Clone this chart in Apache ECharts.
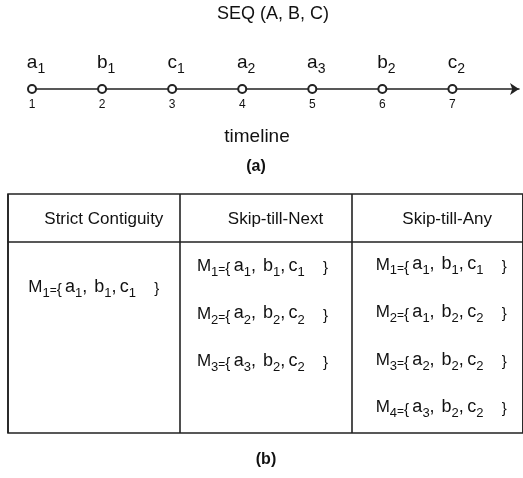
<!DOCTYPE html>
<html>
<head>
<meta charset="utf-8">
<script src="https://cdn.jsdelivr.net/npm/echarts@6/dist/echarts.min.js"></script>
<style>
html,body{margin:0;padding:0;background:#fff;}
#chart{width:523px;height:478px;}
</style>
</head>
<body>
<div id="chart"></div>
<script>
// ---- data ----
const patternTitle = 'SEQ (A, B, C)';
const timePoints = [1, 2, 3, 4, 5, 6, 7];
const eventTypes = ['a', 'b', 'c', 'a', 'a', 'b', 'c'];
const eventIndex = [1, 1, 1, 2, 3, 2, 2];
const tickLabels = ['1', '2', '3', '4', '5', '6', '7'];
const axisTitle = 'timeline';
const policies = ['Strict Contiguity', 'Skip-till-Next', 'Skip-till-Any'];
const strictMatches = [['a1', 'b1', 'c1']];
const nextMatches = [['a1', 'b1', 'c1'], ['a2', 'b2', 'c2'], ['a3', 'b2', 'c2']];
const anyMatches = [['a1', 'b1', 'c1'], ['a1', 'b2', 'c2'], ['a2', 'b2', 'c2'], ['a3', 'b2', 'c2']];
const captionA = '(a)';
const captionB = '(b)';

// ---- styling ----
const FONT = 'Liberation Sans';
const INK = '#111';

const evRich = {
  m: { fontFamily: FONT, fontSize: 19, color: INK, verticalAlign: 'top' },
  s: { fontFamily: FONT, fontSize: 14, color: INK, verticalAlign: 'top', padding: [8.5, 0, 0, 0] }
};
const mRich = {
  M: { fontFamily: FONT, fontSize: 17, color: INK, verticalAlign: 'top', padding: [1, 0, 0, 0] },
  s: { fontFamily: FONT, fontSize: 13, color: INK, verticalAlign: 'top', padding: [9, 0, 0, 0] },
  eq: { fontFamily: FONT, fontSize: 12, color: INK, verticalAlign: 'top', padding: [7, 0, 0, 0] },
  br: { fontFamily: FONT, fontSize: 15, color: INK, verticalAlign: 'top', padding: [4.5, 0, 0, 0] },
  g: { fontFamily: FONT, fontSize: 25, lineHeight: 10, color: INK, verticalAlign: 'top' },
  m: { fontFamily: FONT, fontSize: 18, color: INK, verticalAlign: 'top' }
};

function evTimeline(id) {
  return '{m|' + id.charAt(0) + '}{s|' + id.slice(1) + '}';
}
function evCell(id) {
  return '{m|' + id.charAt(0) + '}{s|' + id.slice(1) + '}';
}
function matchText(k, items) {
  return '{M|M}{s|' + k + '}{eq|=}{br|{}{eq| }' +
    evCell(items[0]) + '{m|,}{g| }' +
    evCell(items[1]) + '{m|,}{eq| }' +
    evCell(items[2]) + '{m|   }{eq| }}';
}

function matchSeries(col, matches, dx, dy) {
  return {
    type: 'scatter', xAxisIndex: 1, yAxisIndex: 1,
    symbolSize: 0, clip: false, silent: true,
    itemStyle: { opacity: 1 },
    data: matches.map(function (m, i) { return [col, i]; }),
    label: {
      show: true, position: 'inside', offset: [dx, dy], opacity: 1,
      fontFamily: FONT, fontSize: 15, color: INK,
      formatter: function (p) { return matchText(p.dataIndex + 1, matches[p.dataIndex]); },
      rich: mRich
    }
  };
}

const chart = echarts.init(document.getElementById('chart'), null, { renderer: 'canvas' });
chart.setOption({
  animation: false,
  backgroundColor: '#fff',
  title: [
    { text: patternTitle, left: 273, top: 5, textAlign: 'center', padding: 0,
      textStyle: { fontFamily: FONT, fontSize: 18, fontWeight: 'normal', color: INK } },
    { text: captionA, left: 256, top: 159, textAlign: 'center', padding: 0,
      textStyle: { fontFamily: FONT, fontSize: 16, fontWeight: 'bold', color: INK } },
    { text: captionB, left: 266, top: 452, textAlign: 'center', padding: 0,
      textStyle: { fontFamily: FONT, fontSize: 16, fontWeight: 'bold', color: INK } }
  ],
  grid: [
    { left: 32, right: 4, top: 60, height: 29 },
    { left: 8, top: 194, width: 516, height: 239, show: true, borderColor: '#222', borderWidth: 1.6, backgroundColor: 'transparent' }
  ],
  xAxis: [
    {
      gridIndex: 0, type: 'value', min: 1, max: 7.95, interval: 1,
      name: axisTitle, nameLocation: 'middle', nameGap: 38,
      nameTextStyle: { fontFamily: FONT, fontSize: 19, color: INK, padding: [0, 37, 0, 0] },
      axisLine: { show: true, onZero: false, symbol: ['none', 'arrow'], symbolSize: [9, 9], lineStyle: { color: '#222', width: 1.5 } },
      axisTick: { show: false },
      splitLine: { show: false },
      axisLabel: {
        show: true, margin: 10, fontFamily: FONT, fontSize: 12, color: INK, showMaxLabel: false,
        formatter: function (v) { return Number.isInteger(v) && v >= 1 && v <= tickLabels.length ? tickLabels[v - 1] : ''; }
      }
    },
    {
      gridIndex: 1, type: 'category', data: policies, position: 'top', offset: -48,
      axisLine: { show: true, onZero: false, lineStyle: { color: '#222', width: 1.6 } },
      axisTick: { show: false },
      splitLine: { show: true, lineStyle: { color: '#222', width: 1.6 } },
      axisLabel: { interval: 0, margin: 14, fontFamily: FONT, fontSize: 17, color: INK, padding: [0, 0, 0, 20] }
    }
  ],
  yAxis: [
    { gridIndex: 0, type: 'value', min: 0, max: 1, show: false },
    { gridIndex: 1, type: 'value', min: -1.52, max: 3.5, inverse: true, show: false }
  ],
  series: [
    {
      type: 'scatter', xAxisIndex: 0, yAxisIndex: 0, clip: false, silent: true,
      symbol: 'emptyCircle', symbolSize: 8,
      itemStyle: { color: '#222', borderColor: '#222', borderWidth: 1.3, opacity: 1 },
      data: timePoints.map(function (t) { return [t, 0]; }),
      label: {
        show: true, position: 'top', distance: 8, offset: [4, 0], opacity: 1,
        formatter: function (p) { return evTimeline(eventTypes[p.dataIndex] + eventIndex[p.dataIndex]); },
        rich: evRich
      }
    },
    matchSeries(0, strictMatches, 0, 22.6),
    matchSeries(1, nextMatches, -3, 1.5),
    matchSeries(2, anyMatches, 4, 0)
  ]
});
</script>
</body>
</html>
